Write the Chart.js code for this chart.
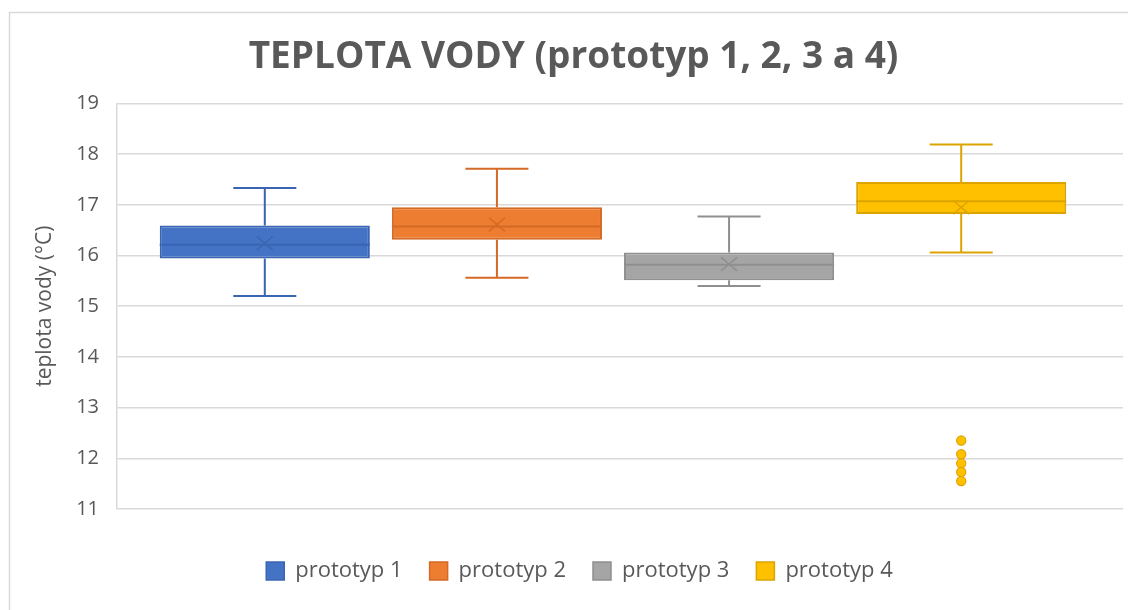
<!DOCTYPE html>
<html>
<head>
<meta charset="utf-8">
<script src="https://cdn.jsdelivr.net/npm/chart.js@4.4.1/dist/chart.umd.min.js"></script>
<style>
  html, body { margin: 0; padding: 0; background: #ffffff; }
  #wrap { position: relative; width: 1128px; height: 610px; }
</style>
</head>
<body>
<div id="wrap"><canvas id="c" width="1128" height="610"></canvas></div>
<script>
// ---- data ----
const seriesNames = ['prototyp 1', 'prototyp 2', 'prototyp 3', 'prototyp 4'];
const q1Values     = [15.94, 16.31, 15.51, 16.82];
const q3Values     = [16.59, 16.95, 16.06, 17.45];
const medianValues = [16.21, 16.57, 15.82, 17.07];
const meanValues   = [16.24, 16.61, 15.83, 16.95];
const whiskerLow   = [15.20, 15.56, 15.40, 16.06];
const whiskerHigh  = [17.33, 17.71, 16.77, 18.19];
const outlierValues = [[], [], [], [12.35, 12.08, 11.90, 11.73, 11.55]];
const yMin = 11, yMax = 19, yStep = 1;

// ---- styling ----
const fillColors = ['#4472C4', '#ED7D31', '#A5A5A5', '#FFC000'];
const lineColors = ['#3A65B2', '#D46A26', '#8F8F8F', '#DCA400'];
const textColor = '#595959';
const gridColor = '#D9D9D9';
const FONT = "'Open Sans', 'Noto Sans', sans-serif";

const boxExtras = {
  id: 'boxExtras',
  afterDatasetsDraw(chart) {
    const ctx = chart.ctx;
    const ys = chart.scales.y;
    chart.data.datasets.forEach((ds, i) => {
      const el = chart.getDatasetMeta(i).data[0];
      if (!el) return;
      const cx = el.x;
      const w = el.width;
      const left = cx - w / 2, right = cx + w / 2;
      const col = lineColors[i];
      ctx.save();
      ctx.strokeStyle = col;
      ctx.lineWidth = 2;
      const yTop = ys.getPixelForValue(q3Values[i]);
      const yBot = ys.getPixelForValue(q1Values[i]);
      const yHi = ys.getPixelForValue(whiskerHigh[i]);
      const yLo = ys.getPixelForValue(whiskerLow[i]);
      const capHalf = w * 0.15;
      ctx.beginPath();
      ctx.moveTo(cx, yTop); ctx.lineTo(cx, yHi);
      ctx.moveTo(cx - capHalf, yHi); ctx.lineTo(cx + capHalf, yHi);
      ctx.moveTo(cx, yBot); ctx.lineTo(cx, yLo);
      ctx.moveTo(cx - capHalf, yLo); ctx.lineTo(cx + capHalf, yLo);
      ctx.stroke();
      const yMed = ys.getPixelForValue(medianValues[i]);
      ctx.beginPath();
      ctx.moveTo(left, yMed); ctx.lineTo(right, yMed);
      ctx.stroke();
      const yMean = ys.getPixelForValue(meanValues[i]);
      const s = 8;
      ctx.lineWidth = 1.5;
      ctx.beginPath();
      ctx.moveTo(cx - s, yMean - s * 0.85); ctx.lineTo(cx + s, yMean + s * 0.85);
      ctx.moveTo(cx + s, yMean - s * 0.85); ctx.lineTo(cx - s, yMean + s * 0.85);
      ctx.stroke();
      outlierValues[i].forEach(v => {
        const yy = ys.getPixelForValue(v);
        ctx.beginPath();
        ctx.arc(cx, yy, 4.6, 0, Math.PI * 2);
        ctx.fillStyle = fillColors[i];
        ctx.fill();
        ctx.lineWidth = 1.2;
        ctx.stroke();
      });
      ctx.restore();
    });
  }
};

const frame = {
  id: 'frame',
  beforeDraw(chart) {
    const ctx = chart.ctx;
    ctx.save();
    ctx.fillStyle = '#ffffff';
    ctx.fillRect(0, 0, chart.width, chart.height);
    ctx.strokeStyle = '#D9D9D9';
    ctx.lineWidth = 1.5;
    ctx.beginPath();
    ctx.moveTo(9.5, chart.height);
    ctx.lineTo(9.5, 12.5);
    ctx.lineTo(chart.width, 12.5);
    ctx.stroke();
    ctx.restore();
  }
};

// small horizontal nudges to match the reference placement of group, title and legend
const nudge = {
  id: 'nudge',
  afterLayout(chart) {
    const xs = chart.scales.x;
    xs.left -= 7; xs.right -= 7;
    xs.configure();
    if (chart.legend) { chart.legend.left += 18; chart.legend.right += 18; }
    if (chart.titleBlock) { chart.titleBlock.left += 12; chart.titleBlock.right += 12; }
  }
};

const datasets = seriesNames.map((name, i) => ({
  label: name,
  data: [[q1Values[i], q3Values[i]]],
  backgroundColor: fillColors[i],
  borderColor: lineColors[i],
  borderWidth: 2,
  borderSkipped: false,
  categoryPercentage: 0.923,
  barPercentage: 0.905
}));

new Chart(document.getElementById('c'), {
  type: 'bar',
  data: { labels: [''], datasets },
  plugins: [frame, boxExtras, nudge],
  options: {
    responsive: false,
    animation: false,
    devicePixelRatio: 1,
    layout: { padding: { left: 0, right: 5, top: 0, bottom: 18 } },
    plugins: {
      title: {
        display: true,
        text: 'TEPLOTA VODY (prototyp 1, 2, 3 a 4)',
        color: textColor,
        font: { family: FONT, size: 37, weight: 'bold', lineHeight: 1.2 },
        padding: { top: 35, bottom: 24 }
      },
      legend: {
        position: 'bottom',
        labels: {
          color: textColor,
          font: { family: FONT, size: 22 },
          boxWidth: 18,
          boxHeight: 18,
          padding: 27,
          generateLabels(chart) {
            return chart.data.datasets.map((ds, i) => ({
              text: ds.label,
              fillStyle: fillColors[i],
              strokeStyle: lineColors[i],
              lineWidth: 1.5,
              datasetIndex: i,
              fontColor: textColor
            }));
          }
        }
      },
      tooltip: { enabled: false }
    },
    scales: {
      x: {
        display: true,
        grid: { display: false, drawTicks: false },
        border: { display: false },
        ticks: { display: false },
        afterFit(scale) { scale.height = 24; }
      },
      y: {
        min: yMin,
        max: yMax,
        ticks: {
          stepSize: yStep,
          color: textColor,
          font: { family: FONT, size: 20 },
          padding: 18
        },
        grid: { color: gridColor, lineWidth: 1.5, drawTicks: false },
        border: { display: true, color: gridColor, width: 1.5 },
        title: {
          display: true,
          text: 'teplota vody (°C)',
          color: textColor,
          font: { family: FONT, size: 21, lineHeight: 1.2 },
          padding: { top: 32, bottom: 0 }
        },
        afterFit(scale) { scale.width = 117; }
      }
    }
  }
});
</script>
</body>
</html>
